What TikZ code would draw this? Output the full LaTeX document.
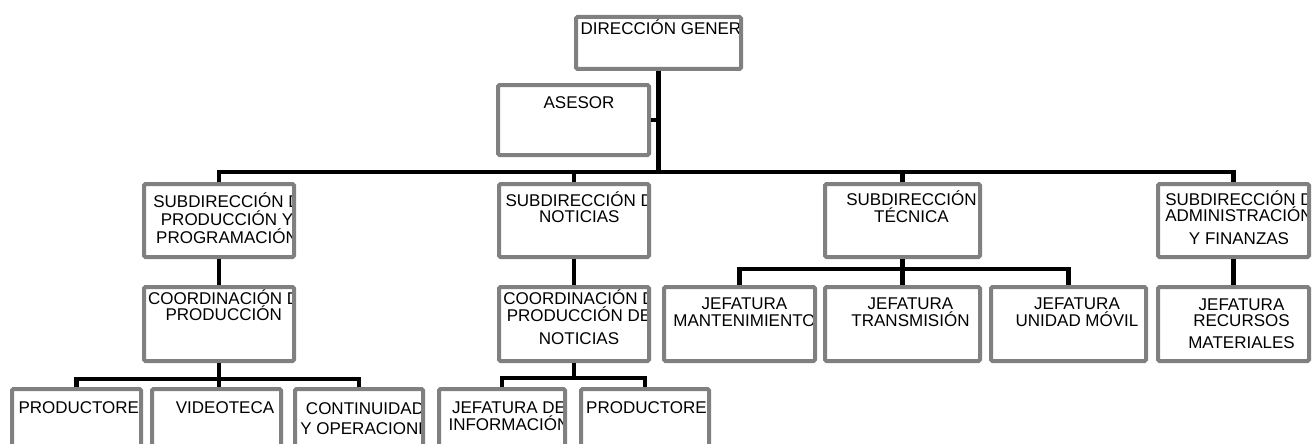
\documentclass[tikz,border=0pt]{standalone}
\usepackage{fontspec}
\setmainfont{Liberation Sans}
\usepackage{tikz}
\usetikzlibrary{calc}

\definecolor{boxgray}{RGB}{128,128,128}
\newcommand{\boxfont}{\fontsize{17}{16.5}\selectfont\lineskiplimit=-20pt}

\tikzset{
	orgbox/.style={draw=boxgray, line width=4pt, fill=white, rounded corners=1.5pt, inner sep=0pt},
	boxtext/.style={anchor=base, align=center, inner sep=0pt, font=\boxfont},
	% #2 = distance from the top of the box to the baseline of the last line
	lbl/.style n args={3}{path picture={\node[boxtext] at ([xshift=#1, yshift=-#2]path picture bounding box.north) {#3};}},
	conn/.style={draw=black, line width=4.5pt}
}

\begin{document}
\begin{tikzpicture}[x=1pt, y=-1pt]
	\useasboundingbox (0,0) rectangle (1314,444);
	\clip (0,0) rectangle (1314,444);

	% top
	\node[orgbox, minimum width=165, minimum height=52, lbl={2.5}{18}{DIRECCIÓN GENER}] (dir) at (658.5,43) {};
	\node[orgbox, minimum width=151, minimum height=70, lbl={5.5}{23.3}{ASESOR}] (ases) at (573.5,120) {};

	% subdirecciones
	\node[orgbox, minimum width=150, minimum height=73, lbl={8}{59}{SUBDIRECCIÓN D\\[1.5pt]PRODUCCIÓN Y\\[1.5pt]PROGRAMACIÓN}] (subprod) at (219,220.5) {};
	\node[orgbox, minimum width=150, minimum height=73, lbl={5.3}{38.7}{SUBDIRECCIÓN D\\NOTICIAS}] (subnot) at (574,220.5) {};
	\node[orgbox, minimum width=155, minimum height=73, lbl={9}{38.3}{SUBDIRECCIÓN\\TÉCNICA}] (subtec) at (902.5,220.5) {};
	\node[orgbox, minimum width=151, minimum height=73, lbl={5.5}{60.3}{SUBDIRECCIÓN D\\ADMINISTRACIÓN\\[6pt]Y FINANZAS}] (subadm) at (1233.5,220.5) {};

	% coordinaciones y jefaturas
	\node[orgbox, minimum width=150, minimum height=74, lbl={4.7}{33.5}{COORDINACIÓN D\\PRODUCCIÓN}] (coordprod) at (219,324) {};
	\node[orgbox, minimum width=150, minimum height=74, lbl={5}{57.7}{COORDINACIÓN D\\PRODUCCIÓN DE\\[7pt]NOTICIAS}] (coordnot) at (574,324) {};
	\node[orgbox, minimum width=151, minimum height=74, lbl={5}{39}{JEFATURA\\MANTENIMIENTO}] (jefman) at (739.5,324) {};
	\node[orgbox, minimum width=155, minimum height=74, lbl={8}{39}{JEFATURA\\TRANSMISIÓN}] (jeftra) at (902.5,324) {};
	\node[orgbox, minimum width=155, minimum height=74, lbl={8.5}{39}{JEFATURA\\UNIDAD MÓVIL}] (jefuni) at (1068.5,324) {};
	\node[orgbox, minimum width=151, minimum height=74, lbl={8}{61}{JEFATURA\\RECURSOS\\[5pt]MATERIALES}] (jefrec) at (1233.5,324) {};

	% ultimo nivel
	\node[orgbox, minimum width=129, minimum height=89, lbl={2.3}{24.5}{PRODUCTORE}] (prodA) at (76.5,433.5) {};
	\node[orgbox, minimum width=129, minimum height=89, lbl={8.5}{24.5}{VIDEOTECA}] (vid) at (216.5,433.5) {};
	\node[orgbox, minimum width=128, minimum height=89, lbl={6}{45}{CONTINUIDAD\\[3.5pt]Y OPERACIONE}] (cont) at (359,433.5) {};
	\node[orgbox, minimum width=126, minimum height=89, lbl={7}{41}{JEFATURA DE\\INFORMACIÓN}] (jefinf) at (502,433.5) {};
	\node[orgbox, minimum width=128, minimum height=89, lbl={1.5}{24.5}{PRODUCTORE}] (prodB) at (645,433.5) {};

	\coordinate (top) at (658.5,172);
	\coordinate (tecbar) at (902.5,269);
	\coordinate (prodbar) at (219,379);
	\coordinate (notbar) at (574,378);

	\draw[conn] (dir.south) -- (top);
	\draw[conn] (ases.east) -- (ases.east -| dir.south);
	\draw[conn] (subprod.north) |- (top) -| (subadm.north);
	\draw[conn] (subnot.north) -- (subnot.north |- top);
	\draw[conn] (subtec.north) -- (subtec.north |- top);

	\draw[conn] (subprod.south) -- (coordprod.north);
	\draw[conn] (subnot.south) -- (coordnot.north);
	\draw[conn] (subadm.south) -- (jefrec.north);
	\draw[conn] (subtec.south) -- (jeftra.north);
	\draw[conn] (jefman.north) |- (tecbar) -| (jefuni.north);

	\draw[conn] (coordprod.south) -- (coordprod.south |- vid.north);
	\draw[conn] (prodA.north) |- (prodbar) -| (cont.north);
	\draw[conn] (coordnot.south) -- (notbar);
	\draw[conn] (jefinf.north) |- (notbar) -| (prodB.north);
\end{tikzpicture}
\end{document}
